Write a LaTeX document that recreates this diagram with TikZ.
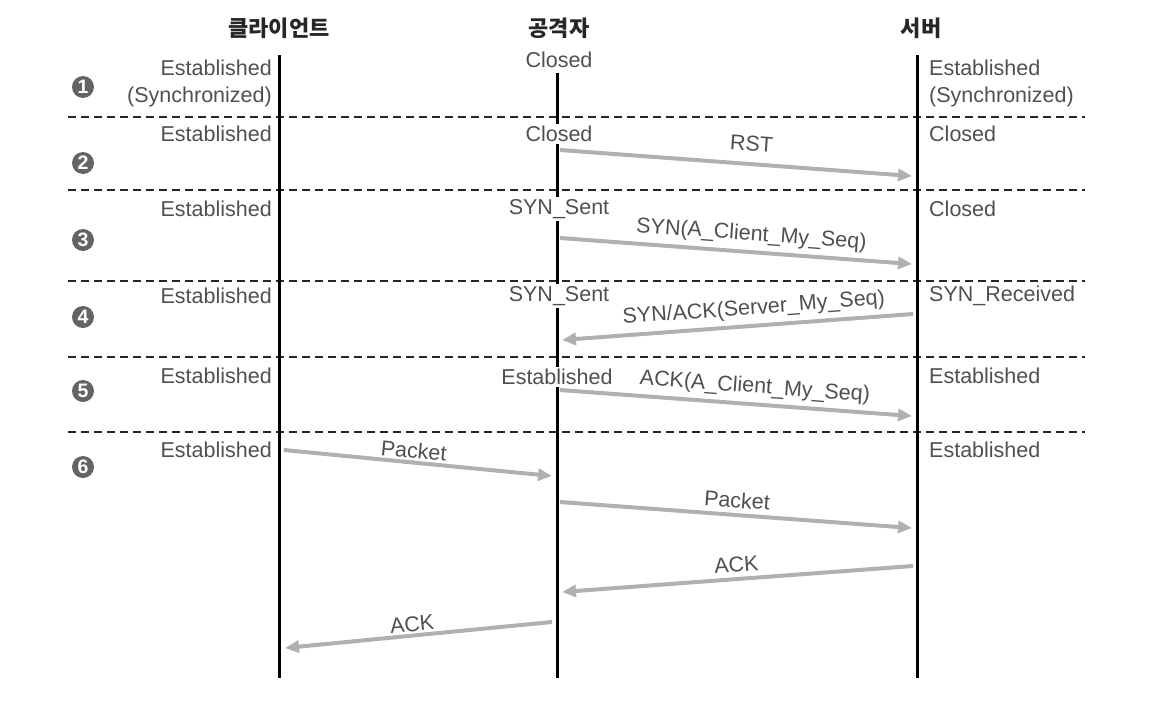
\documentclass[tikz,border=0pt]{standalone}
\usepackage{fontspec}
\setmainfont{Liberation Sans}
\newfontfamily\krfont{Noto Sans CJK KR}
\usetikzlibrary{arrows.meta,positioning,calc}
\definecolor{txtgray}{RGB}{80,80,80}
\definecolor{msggray}{RGB}{176,176,176}
\definecolor{numgray}{RGB}{100,100,100}
\tikzset{
  lifeln/.style={line width=3pt, black},
  sepln/.style={dash pattern=on 8pt off 5pt, line width=1.4pt, black!85},
  msgln/.style={-{Triangle[length=14pt,width=12pt]}, line width=4pt, msggray},
  msglbl/.style={sloped, above=3pt, text=txtgray, inner sep=2pt,
    font=\fontsize{21.5}{25}\selectfont},
  statelbl/.style={text=txtgray, inner sep=1pt, font=\fontsize{21.5}{27}\selectfont},
  attlbl/.style={statelbl, fill=white, inner sep=2.5pt},
  headlbl/.style={text=black!85, font=\krfont\bfseries\fontsize{22}{26}\selectfont},
  stepnum/.style={circle, fill=numgray, text=white, minimum size=22pt, inner sep=0pt,
    font=\bfseries\fontsize{19.5}{19.5}\selectfont},
}
\begin{document}
\begin{tikzpicture}[x=1pt, y=-1pt]
    \useasboundingbox[fill=white] (0,0) rectangle (1164,704);
    % Headers
    \node[headlbl] (cli-h) at (279,28) {클라이언트};
    \node[headlbl] (att-h) at (559,28) {공격자};
    \node[headlbl] (srv-h) at (921,28) {서버};
    % Row separators
    \foreach \y in {117,190,281,357,432}
      \draw[sepln] (68,\y) -- (1085,\y);
    % Lifelines
    \coordinate (cli-top) at (279,55);  \coordinate (cli-bot) at (279,678);
    \coordinate (att-top) at (557,73);  \coordinate (att-bot) at (557,678);
    \coordinate (srv-top) at (917,55);  \coordinate (srv-bot) at (917,678);
    \draw[lifeln] (cli-top) -- (cli-bot);
    \draw[lifeln] (att-top) -- (att-bot);
    \draw[lifeln] (srv-top) -- (srv-bot);
    % Step numbers
    \foreach \y [count=\i] in {87,163,240,317,391,467}
      \node[stepnum] (step\i) at (83,\y) {\i};
    % Client states
    \node[statelbl, anchor=east, align=right] (cli-s1) at (273,83) {Established\\(Synchronized)};
    \foreach \y [count=\i from 2] in {134,209,296,376,450}
      \node[statelbl, anchor=east] (cli-s\i) at (273,\y) {Established};
    % Attacker states
    \node[attlbl] (att-s1) at (559,60) {Closed};
    \node[attlbl] (att-s2) at (559,134) {Closed};
    \node[attlbl] (att-s3) at (559,209) {SYN\_Sent};
    \node[attlbl] (att-s4) at (559,296) {SYN\_Sent};
    \node[attlbl] (att-s5) at (557,377) {Established};
    % Server states
    \node[statelbl, anchor=west, align=left] (srv-s1) at (928,83) {Established\\(Synchronized)};
    \node[statelbl, anchor=west] (srv-s2) at (928,134) {Closed};
    \node[statelbl, anchor=west] (srv-s3) at (928,209) {Closed};
    \node[statelbl, anchor=west] (srv-s4) at (928,296) {SYN\_Received};
    \node[statelbl, anchor=west] (srv-s5) at (928,376) {Established};
    \node[statelbl, anchor=west] (srv-s6) at (928,450) {Established};
    % Message end points
    \coordinate (rst-a) at (560,150);  \coordinate (rst-b) at (912,176);
    \coordinate (syn-a) at (560,238);  \coordinate (syn-b) at (912,264);
    \coordinate (sa-a)  at (913,314);  \coordinate (sa-b)  at (562,340);
    \coordinate (ack-a) at (560,390);  \coordinate (ack-b) at (912,416);
    \coordinate (pk1-a) at (284,450);  \coordinate (pk1-b) at (552,476);
    \coordinate (pk2-a) at (560,502);  \coordinate (pk2-b) at (912,528);
    \coordinate (ak1-a) at (913,566);  \coordinate (ak1-b) at (562,592);
    \coordinate (ak2-a) at (552,622);  \coordinate (ak2-b) at (285,648);
    % Messages
    \draw[msgln] (rst-a) -- node[msglbl, above=9pt, pos=0.54] (rst-l) {RST} (rst-b);
    \draw[msgln] (syn-a) -- node[msglbl, pos=0.54] (syn-l) {SYN(A\_Client\_My\_Seq)} (syn-b);
    \draw[msgln] (sa-a) -- node[msglbl, pos=0.45] (sa-l) {SYN/ACK(Server\_My\_Seq)} (sa-b);
    \draw[msgln] (ack-a) -- node[msglbl, pos=0.55] (ack-l) {ACK(A\_Client\_My\_Seq)} (ack-b);
    \draw[msgln] (pk1-a) -- node[msglbl, above=0pt, pos=0.48] (pk1-l) {Packet} (pk1-b);
    \draw[msgln] (pk2-a) -- node[msglbl, pos=0.5] (pk2-l) {Packet} (pk2-b);
    \draw[msgln] (ak1-a) -- node[msglbl, pos=0.5] (ak1-l) {ACK} (ak1-b);
    \draw[msgln] (ak2-a) -- node[msglbl, above=0pt, pos=0.52] (ak2-l) {ACK} (ak2-b);
  \end{tikzpicture}
\end{document}
